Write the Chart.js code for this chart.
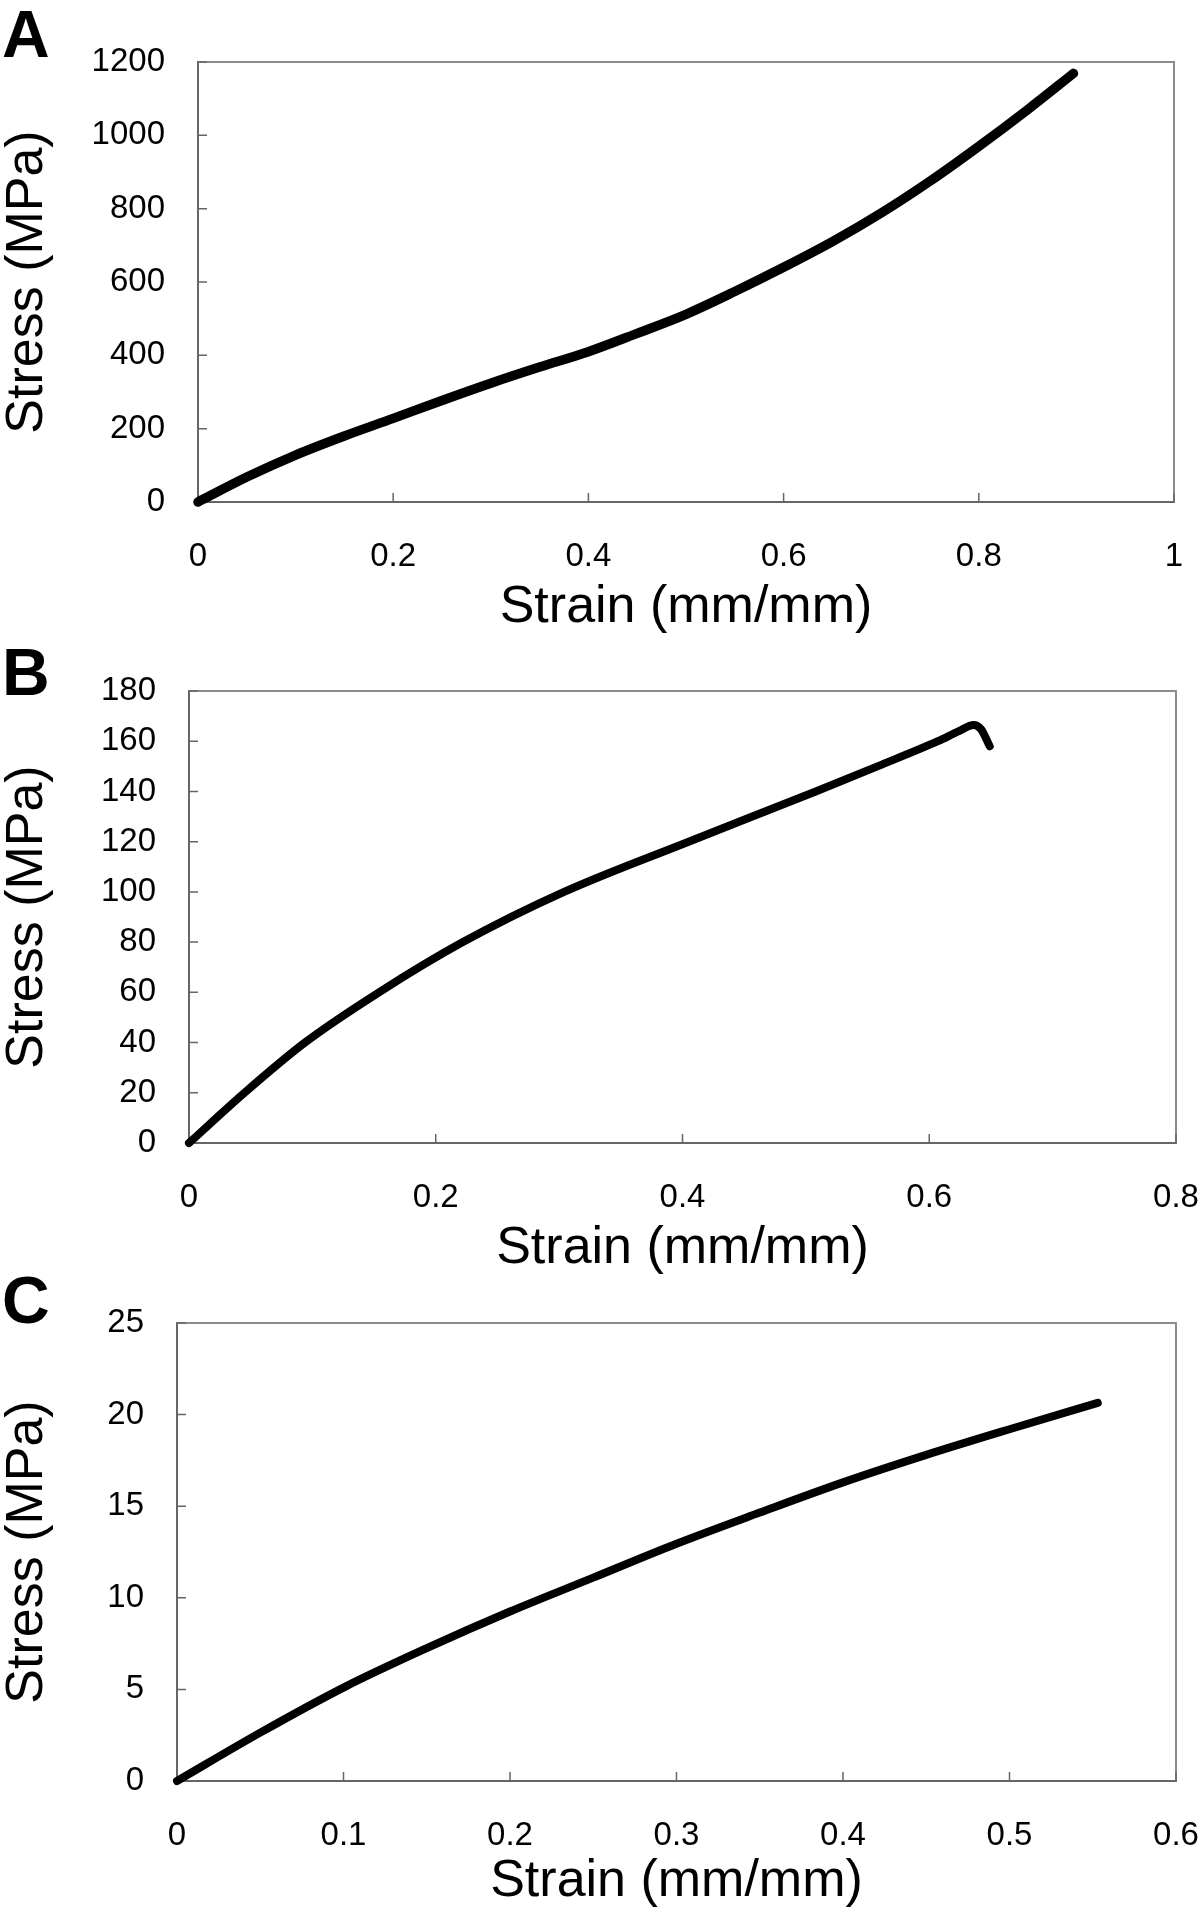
<!DOCTYPE html>
<html><head><meta charset="utf-8">
<script src="https://cdn.jsdelivr.net/npm/chart.js@4"></script>
<style>
html,body{margin:0;padding:0;background:#fff;}
body{width:1200px;height:1910px;position:relative;overflow:hidden;font-family:"Liberation Sans",Arial,Helvetica,sans-serif;}
.wrap{position:absolute;left:0;width:1200px;}
.wrap canvas{display:block;}
.lbl{position:absolute;left:2px;font-weight:bold;font-size:66px;line-height:1;color:#000;font-family:"Liberation Sans",Arial,Helvetica,sans-serif;}
</style></head><body>
<div class="wrap" style="top:0px;height:634px"><canvas id="cA" width="1200" height="634" style="width:1200px;height:634px"></canvas></div>
<div class="wrap" style="top:634px;height:641px"><canvas id="cB" width="1200" height="641" style="width:1200px;height:641px"></canvas></div>
<div class="wrap" style="top:1275px;height:633px"><canvas id="cC" width="1200" height="633" style="width:1200px;height:633px"></canvas></div>
<div class="lbl" style="top:1px">A</div>
<div class="lbl" style="top:639px">B</div>
<div class="lbl" style="top:1267px">C</div>
<script>
// ---- data ----
const xTitle = "Strain (mm/mm)";
const yTitle = "Stress (MPa)";

const strainA = [0,0.05,0.1,0.15,0.2,0.25,0.3,0.35,0.4,0.45,0.5,0.55,0.6,0.65,0.7,0.75,0.8,0.85,0.897];
const stressA = [0,68,128,180,228,277,324,368,410,460,512,574,640,710,788,875,970,1070,1169];
const xTicksA = [0,0.2,0.4,0.6,0.8,1];
const xLabelsA = ["0","0.2","0.4","0.6","0.8","1"];
const yTicksA = [0,200,400,600,800,1000,1200];
const yLabelsA = ["0","200","400","600","800","1000","1200"];

const strainB = [0,0.045,0.094,0.154,0.222,0.304,0.405,0.508,0.558,0.607,0.624,0.636,0.642,0.649];
const stressB = [0,20,40,60,80,100,120,140,150,160,164,166.5,164.8,158];
const xTicksB = [0,0.2,0.4,0.6,0.8];
const xLabelsB = ["0","0.2","0.4","0.6","0.8"];
const yTicksB = [0,20,40,60,80,100,120,140,160,180];
const yLabelsB = ["0","20","40","60","80","100","120","140","160","180"];

const strainC = [0,0.05,0.1,0.15,0.2,0.25,0.3,0.35,0.4,0.45,0.5,0.553];
const stressC = [0,2.64,5.1,7.25,9.25,11.1,12.95,14.65,16.3,17.8,19.2,20.64];
const xTicksC = [0,0.1,0.2,0.3,0.4,0.5,0.6];
const xLabelsC = ["0","0.1","0.2","0.3","0.4","0.5","0.6"];
const yTicksC = [0,5,10,15,20,25];
const yLabelsC = ["0","5","10","15","20","25"];

const FONT = '"Liberation Sans", Arial, Helvetica, sans-serif';

const framePlugin = {
  id: 'frame',
  beforeDatasetsDraw(chart) {
    const {ctx, chartArea: a, scales: {x, y}} = chart;
    ctx.save();
    ctx.strokeStyle = '#8c8c8c';
    ctx.lineWidth = 2;
    ctx.beginPath();
    ctx.moveTo(a.left, a.top);
    ctx.lineTo(a.right, a.top);
    ctx.lineTo(a.right, a.bottom);
    ctx.stroke();
    ctx.strokeStyle = '#666';
    ctx.lineWidth = 1.5;
    ctx.beginPath();
    x.ticks.forEach(t => { const p = x.getPixelForValue(t.value); ctx.moveTo(p, a.bottom); ctx.lineTo(p, a.bottom - 9); });
    y.ticks.forEach(t => { const p = y.getPixelForValue(t.value); ctx.moveTo(a.left, p); ctx.lineTo(a.left + 9, p); });
    ctx.stroke();
    ctx.restore();
  }
};

function makePanel(id, xs, ys, xTicks, xLabels, yTicks, yLabels, box, lw) {
  const pts = xs.map((v, i) => ({x: v, y: ys[i]}));
  new Chart(document.getElementById(id), {
    type: 'line',
    data: { datasets: [{
      data: pts,
      borderColor: '#000',
      borderWidth: lw,
      borderCapStyle: 'round',
      borderJoinStyle: 'round',
      pointRadius: 0,
      cubicInterpolationMode: 'monotone',
      clip: 12,
      fill: false
    }]},
    options: {
      responsive: false,
      animation: false,
      events: [],
      layout: { padding: { top: box.padTop, right: box.padRight, left: 0, bottom: 0 } },
      plugins: { legend: { display: false }, tooltip: { enabled: false } },
      scales: {
        x: {
          type: 'linear',
          min: xTicks[0], max: xTicks[xTicks.length - 1],
          afterBuildTicks: s => { s.ticks = xTicks.map(v => ({value: v})); },
          afterFit: s => { s.height = box.xH; s.paddingLeft = 0; s.paddingRight = 0; s.paddingTop = 0; s.paddingBottom = 0; },
          grid: { display: false, drawTicks: false, tickLength: 0 },
          border: { display: true, color: '#666', width: 2 },
          ticks: { color: '#000', padding: 35, maxRotation: 0, minRotation: 0, autoSkip: false,
                   callback: (v, i) => xLabels[i],
                   font: { family: FONT, size: 33, lineHeight: 1.2 } },
          title: { display: true, text: xTitle, color: '#000', padding: { top: 0, bottom: 0 }, font: { family: FONT, size: 52, lineHeight: 1 } }
        },
        y: {
          type: 'linear',
          min: yTicks[0], max: yTicks[yTicks.length - 1],
          afterBuildTicks: s => { s.ticks = yTicks.map(v => ({value: v})); },
          afterFit: s => { s.width = box.yW; s.paddingLeft = 0; s.paddingRight = 0; s.paddingTop = 0; s.paddingBottom = 0; },
          grid: { display: false, drawTicks: false, tickLength: 0 },
          border: { display: true, color: '#666', width: 2 },
          ticks: { color: '#000', padding: 33, autoSkip: false,
                   callback: (v, i) => yLabels[i],
                   font: { family: FONT, size: 33, lineHeight: 1.2 } },
          title: { display: true, text: yTitle, color: '#000', padding: { top: 2, bottom: 0 }, font: { family: FONT, size: 52, lineHeight: 1 } }
        }
      }
    },
    plugins: [framePlugin]
  });
}

makePanel('cA', strainA, stressA, xTicksA, xLabelsA, yTicksA, yLabelsA, {padTop: 62, yW: 198, padRight: 26, xH: 132}, 9.5);
makePanel('cB', strainB, stressB, xTicksB, xLabelsB, yTicksB, yLabelsB, {padTop: 57, yW: 189, padRight: 24, xH: 132}, 8);
makePanel('cC', strainC, stressC, xTicksC, xLabelsC, yTicksC, yLabelsC, {padTop: 48, yW: 177, padRight: 24, xH: 127}, 8);
</script>
</body></html>
